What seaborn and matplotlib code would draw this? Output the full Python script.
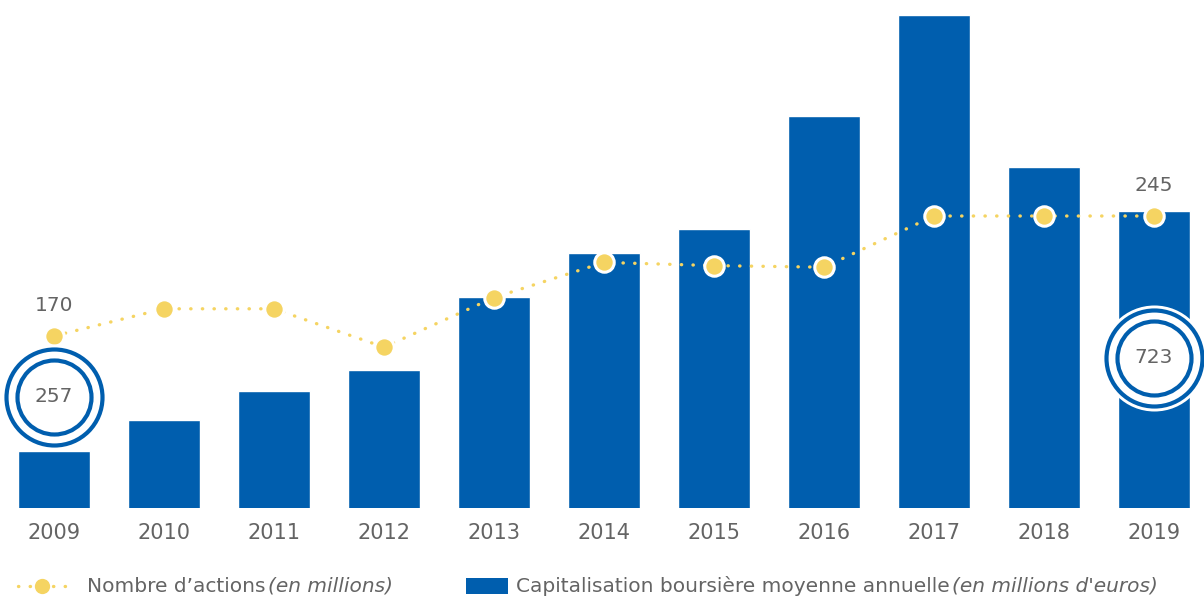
import numpy as np
import pandas as pd
import matplotlib
matplotlib.use("Agg")
import matplotlib.pyplot as plt
import matplotlib.transforms as mtransforms
from matplotlib.lines import Line2D
from matplotlib.patches import Rectangle
import seaborn as sns

years       = ["2009", "2010", "2011", "2012", "2013", "2014", "2015", "2016", "2017", "2018", "2019"]
capitalisation = [257, 317, 373, 414, 555, 641, 687, 906, 1102, 808, 723]   # M€
nb_actions  = [170, 187, 187, 163, 194, 216, 214, 213, 245, 245, 245]        # millions

BLUE   = "#005EAE"
YELLOW = "#F5D462"
GREY   = "#646464"

sns.set_theme(style="white")
plt.rcParams["font.family"] = ["DejaVu Sans"]

df = pd.DataFrame({"annee": years, "cap": capitalisation, "actions": nb_actions})
df["pos"] = np.arange(len(df))

fig = plt.figure(figsize=(12.04, 5.98), dpi=100)
ax = fig.add_axes([0, 90 / 598, 1, 508 / 598])

sns.barplot(data=df, x="annee", y="cap", color=BLUE, saturation=1, width=0.655, ax=ax)
ax.set_xlim(-54 / 110, 1150 / 110)
ax.set_ylim(146, 146 + 1.94 * 508)
ax.set_xlabel("")
ax.set_ylabel("")
ax.set_yticks([])
ax.tick_params(axis="x", length=0, pad=11, labelsize=15, labelcolor=GREY)
for s in ax.spines.values():
    s.set_visible(False)

# nombre d'actions (axe secondaire)
ax2 = ax.twinx()
ax2.set_ylim(62.5, 62.5 + 0.625 * 508)
ax2.set_xlim(ax.get_xlim())
sns.lineplot(data=df, x="pos", y="actions", ax=ax2, color=YELLOW, linewidth=2.4,
             linestyle=(0, (0.1, 3.4)), dash_capstyle="round", marker="o",
             markersize=14, markerfacecolor=YELLOW, markeredgecolor="white",
             markeredgewidth=2.2, zorder=5)
ax2.set_yticks([])
ax2.set_xlabel("")
ax2.set_ylabel("")
for s in ax2.spines.values():
    s.set_visible(False)

for i in [0, len(df) - 1]:
    ax2.annotate(str(nb_actions[i]), (i, nb_actions[i]), xytext=(0, 22),
                 textcoords="offset points", ha="center", va="center",
                 fontsize=14.5, color=GREY)

# cercles de valeur sur les barres 2009 et 2019
def badge(i, dy_px):
    tr = mtransforms.offset_copy(ax2.transData, fig=fig, x=0, y=dy_px, units="dots")
    y = capitalisation[i]
    disp = ax.transData.transform((i, y))
    yv = ax2.transData.inverted().transform(disp)[1]
    ax2.scatter([i], [yv], s=(2 * 53 * 0.72) ** 2, color="white", linewidths=0,
                transform=tr, zorder=6)
    ax2.scatter([i], [yv], s=(2 * 48 * 0.72) ** 2, facecolor="white", edgecolor=BLUE,
                linewidths=3, transform=tr, zorder=7)
    ax2.scatter([i], [yv], s=(2 * 37 * 0.72) ** 2, facecolor="white", edgecolor=BLUE,
                linewidths=3, transform=tr, zorder=8)
    ax2.text(i, yv, str(y), transform=tr, ha="center", va="center",
             fontsize=14.5, color=GREY, zorder=9)

badge(0, 54)
badge(len(df) - 1, -147)

# légende
ly = 12 / 598
leg_line = Line2D([18 / 1204, 66 / 1204], [ly, ly], transform=fig.transFigure,
                  color=YELLOW, linewidth=2.4, linestyle=(0, (0.1, 3.4)),
                  dash_capstyle="round")
leg_dot = Line2D([42 / 1204], [ly], transform=fig.transFigure, marker="o",
                 markersize=11, color=YELLOW, markeredgewidth=0, linestyle="none")
fig.add_artist(leg_line)
fig.add_artist(leg_dot)
fig.add_artist(Rectangle((466 / 1204, ly - 8 / 598), 42 / 1204, 16 / 598,
                         transform=fig.transFigure, color=BLUE, linewidth=0))

renderer = fig.canvas.get_renderer()
def leg_text(x_px, main, italic):
    t = fig.text(x_px / 1204, ly, main, ha="left", va="center", fontsize=14.5, color=GREY)
    bb = t.get_window_extent(renderer=renderer)
    fig.text(bb.x1 / 1204 + 2 / 1204, ly, italic, ha="left", va="center",
             fontsize=14.5, color=GREY, style="italic")

leg_text(87, "Nombre d’actions", "(en millions)")
leg_text(516, "Capitalisation boursière moyenne annuelle", "(en millions d'euros)")

fig.savefig("out.png", dpi=100)
